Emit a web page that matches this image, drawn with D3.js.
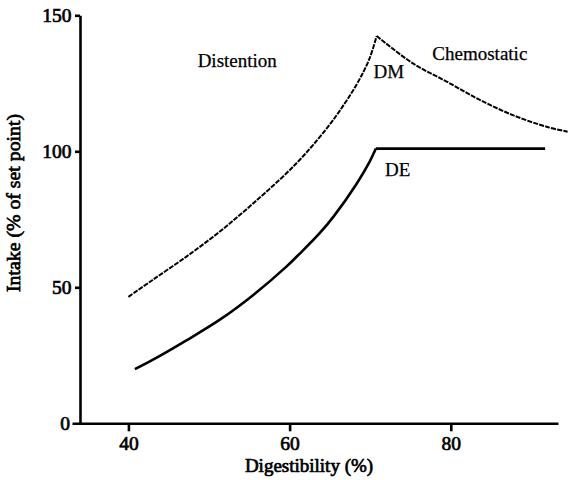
<!DOCTYPE html>
<html>
<head>
<meta charset="utf-8">
<script src="https://cdn.jsdelivr.net/npm/d3@7"></script>
<style>
  body { margin: 0; background: #fff; }
</style>
</head>
<body>
<div id="chart"></div>
<script>
// digestibility (%) vs intake (% of set point)
let dmRise = [[40, 46.5], [43, 52.7], [47.2, 61.3], [51.3, 70.4], [55.5, 80.9], [59.6, 91.9],
              [61.3, 97], [62.9, 102.3], [65.4, 111.5], [68.3, 124.5], [69.9, 134], [70.8, 142.4]];
let dmFall = [[70.8, 142.4], [75.3, 132.3], [79.5, 125.6], [83.6, 118.9], [87.7, 113.3], [91.9, 109], [94.5, 107.2]];
let deRise = [[40.8, 19.9], [43, 23.3], [47.2, 30.5], [51.3, 38], [55.5, 47.2], [59.6, 57.6],
              [61.3, 62.5], [63.7, 69.8], [65.4, 75.8], [68.3, 88], [69.9, 96], [70.7, 101]];
let deFlat = [[70.7, 101], [91.7, 101]];

let xTicks = [40, 60, 80];
let yTicks = [0, 50, 100, 150];

let labels = [
    {text: 'Distention', x: 53.5, y: 131.1},
    {text: 'Chemostatic', x: 83.6, y: 133.6},
    {text: 'DM', x: 72.3, y: 126.8},
    {text: 'DE', x: 73.4, y: 90.9}
];

let serif = '"Liberation Serif", "DejaVu Serif", serif';
let elWidth = 568, elHeight = 480;

// serif bold face is not picked up, so thicken regular glyphs with a thin stroke
function heavy(sel, size) {
    sel.attr('font-family', serif)
       .attr('font-size', size)
       .attr('font-weight', 'normal')
       .attr('fill', '#000')
       .attr('stroke', '#000')
       .attr('stroke-width', 0.7);
}

let svg = d3.select('#chart').append('svg')
    .attr('width', elWidth)
    .attr('height', elHeight);

let x = d3.scaleLinear().domain([33, 93.3]).range([72, 558]);
let y = d3.scaleLinear().domain([0, 150]).range([423.3, 15.3]);

// axes
let yAxis = svg.append('g')
    .attr('transform', 'translate(80,0)')
    .call(d3.axisLeft(y).tickValues(yTicks.filter(d => d > 0)).tickSize(5).tickSizeOuter(0).tickPadding(3.5));

let xAxis = svg.append('g')
    .attr('transform', 'translate(0,' + y(0) + ')')
    .call(d3.axisBottom(x).tickValues(xTicks).tickSize(8).tickSizeOuter(0).tickPadding(5));

// zero label sits at the left end of the x axis line
svg.append('text')
    .attr('x', 70)
    .attr('y', y(0))
    .attr('dy', '0.35em')
    .attr('text-anchor', 'end')
    .call(heavy, 19.5)
    .text(yTicks[0]);

[xAxis, yAxis].forEach(function(a) {
    a.select('.domain').attr('stroke', '#000').attr('stroke-width', 2.6);
    a.selectAll('.tick line').attr('stroke', '#000').attr('stroke-width', 2.6);
    a.selectAll('.tick text').call(heavy, 19.5);
});

// curves
let line = d3.line()
    .x(function(d) { return x(d[0]); })
    .y(function(d) { return y(d[1]); })
    .curve(d3.curveCatmullRom.alpha(0.5));

[dmRise, dmFall].forEach(function(seg) {
    svg.append('path')
        .datum(seg)
        .attr('fill', 'none')
        .attr('stroke', '#000')
        .attr('stroke-width', 2)
        .attr('stroke-dasharray', '5,1.2')
        .attr('d', line);
});

[deRise, deFlat].forEach(function(seg) {
    svg.append('path')
        .datum(seg)
        .attr('fill', 'none')
        .attr('stroke', '#000')
        .attr('stroke-width', 2.6)
        .attr('stroke-linejoin', 'round')
        .attr('d', line);
});

// region and curve labels
svg.selectAll('.lbl')
    .data(labels)
    .enter().append('text')
    .attr('class', 'lbl')
    .attr('x', d => x(d.x))
    .attr('y', d => y(d.y))
    .attr('text-anchor', 'middle')
    .attr('font-family', serif)
    .attr('font-size', 19)
    .attr('stroke', '#000')
    .attr('stroke-width', 0.25)
    .text(d => d.text);

// axis titles
svg.append('text')
    .attr('x', 309)
    .attr('y', 472)
    .attr('text-anchor', 'middle')
    .call(heavy, 19)
    .text('Digestibility (%)');

svg.append('text')
    .attr('transform', 'translate(20,203) rotate(-90)')
    .attr('text-anchor', 'middle')
    .call(heavy, 19.8)
    .text('Intake (% of set point)');
</script>
</body>
</html>
